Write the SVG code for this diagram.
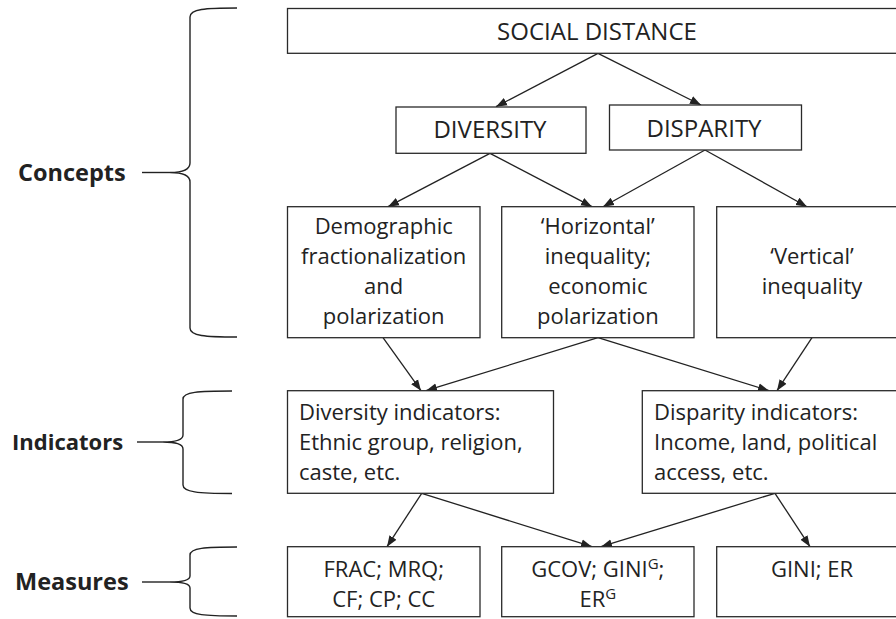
<svg xmlns="http://www.w3.org/2000/svg" width="896" height="619" viewBox="0 0 896 619">
<style>
.box{fill:#fff;stroke:#2a2a2a;stroke-width:1.3}
.t{font-family:"Open Sans","Noto Sans",sans-serif;font-size:22px;fill:#222;text-anchor:middle}
.h{font-size:24px}
.l{text-anchor:start}
.lab{font-family:"Open Sans","Noto Sans",sans-serif;font-size:23.5px;font-weight:bold;fill:#222}
.lab.s{font-size:22px}
.c{stroke:#222;stroke-width:1.3;fill:none}
.br{stroke:#222;stroke-width:1.4;fill:none}
</style>
<defs>
<marker id="ah" markerUnits="userSpaceOnUse" markerWidth="12" markerHeight="10" viewBox="0 0 12 10" refX="11" refY="5" orient="auto">
<path d="M0,0.8 L11,5 L0,9.2 Z" fill="#222"/>
</marker>
</defs>
<g id="brackets">
<path class="br" d="M237 8 C205 8 190 9 190 17 L190 163 C190 169 184 172.5 170 172.5 C184 172.5 190 176 190 182 L190 328 C190 336 205 337 237 337"/>
<path class="br" d="M142 172.5 L170 172.5"/>
<path class="br" d="M232 391 C198 391 183 392 183 399 L183 435 C183 440 177 442 163 442 C177 442 183 444 183 449 L183 485 C183 492 198 493.5 232 493.5"/>
<path class="br" d="M137 442 L163 442"/>
<path class="br" d="M237 547 C205 547 190 548 190 555 L190 576 C190 580 184 582 170 582 C184 582 190 584 190 588 L190 608 C190 615 205 616 237 616"/>
<path class="br" d="M142 582 L170 582"/>
</g>
<g id="label-concepts"><text class="lab" x="18" y="181">Concepts</text></g>
<g id="label-indicators"><text class="lab s" x="12" y="450">Indicators</text></g>
<g id="label-measures"><text class="lab" x="15" y="590">Measures</text></g>
<g id="connectors">
<line class="c" x1="598" y1="53.3" x2="496" y2="106.7" marker-end="url(#ah)"/>
<line class="c" x1="598" y1="53.3" x2="701" y2="105" marker-end="url(#ah)"/>
<line class="c" x1="490" y1="153.3" x2="388" y2="206.7" marker-end="url(#ah)"/>
<line class="c" x1="490" y1="153.3" x2="592" y2="206.7" marker-end="url(#ah)"/>
<line class="c" x1="705" y1="150" x2="603" y2="206.7" marker-end="url(#ah)"/>
<line class="c" x1="705" y1="150" x2="807" y2="206.7" marker-end="url(#ah)"/>
<line class="c" x1="383" y1="337.7" x2="421" y2="390.7" marker-end="url(#ah)"/>
<line class="c" x1="598" y1="337.7" x2="426" y2="390.7" marker-end="url(#ah)"/>
<line class="c" x1="598" y1="337.7" x2="769" y2="390.7" marker-end="url(#ah)"/>
<line class="c" x1="812" y1="337.7" x2="777" y2="390.7" marker-end="url(#ah)"/>
<line class="c" x1="421.7" y1="493.3" x2="387" y2="546.7" marker-end="url(#ah)"/>
<line class="c" x1="421.7" y1="493.3" x2="592" y2="546.7" marker-end="url(#ah)"/>
<line class="c" x1="775" y1="493.3" x2="601" y2="546.7" marker-end="url(#ah)"/>
<line class="c" x1="775" y1="493.3" x2="810" y2="546.7" marker-end="url(#ah)"/>
</g>
<g id="social-distance">
<rect class="box" x="287.5" y="8.5" width="622" height="44.8"/>
<text class="t h" x="597" y="40">SOCIAL DISTANCE</text>
</g>
<g id="diversity">
<rect class="box" x="396" y="107" width="190" height="46.3"/>
<text class="t h" x="490" y="138.3">DIVERSITY</text>
</g>
<g id="disparity">
<rect class="box" x="609.5" y="105" width="192" height="45"/>
<text class="t h" x="704" y="136.7">DISPARITY</text>
</g>
<g id="demographic">
<rect class="box" x="287.5" y="206.7" width="192.5" height="131"/>
<text class="t" x="383.7" y="234">Demographic</text>
<text class="t" x="383.7" y="264">fractionalization</text>
<text class="t" x="383.7" y="294">and</text>
<text class="t" x="383.7" y="324">polarization</text>
</g>
<g id="horizontal">
<rect class="box" x="501.7" y="206.7" width="192.3" height="131"/>
<text class="t" x="597.8" y="234">‘Horizontal’</text>
<text class="t" x="597.8" y="264">inequality;</text>
<text class="t" x="597.8" y="294">economic</text>
<text class="t" x="597.8" y="324">polarization</text>
</g>
<g id="vertical">
<rect class="box" x="716.7" y="206.7" width="192" height="131"/>
<text class="t" x="812" y="264">‘Vertical’</text>
<text class="t" x="812" y="294">inequality</text>
</g>
<g id="diversity-indicators">
<rect class="box" x="287.5" y="390.7" width="266" height="102.6"/>
<text class="t l" x="299" y="420">Diversity indicators:</text>
<text class="t l" x="299" y="450">Ethnic group, religion,</text>
<text class="t l" x="299" y="480">caste, etc.</text>
</g>
<g id="disparity-indicators">
<rect class="box" x="642.3" y="390.7" width="266" height="102.6"/>
<text class="t l" x="654" y="420">Disparity indicators:</text>
<text class="t l" x="654" y="450">Income, land, political</text>
<text class="t l" x="654" y="480">access, etc.</text>
</g>
<g id="frac">
<rect class="box" x="287.5" y="546.7" width="192.5" height="70"/>
<text class="t" x="383.7" y="577">FRAC; MRQ;</text>
<text class="t" x="383.7" y="607">CF; CP; CC</text>
</g>
<g id="gcov">
<rect class="box" x="501.7" y="546.7" width="192.3" height="70"/>
<text class="t" x="597.8" y="577">GCOV; GINI<tspan font-size="15" dy="-8">G</tspan><tspan dy="8">;</tspan></text>
<text class="t" x="597.8" y="607">ER<tspan font-size="15" dy="-8">G</tspan></text>
</g>
<g id="gini">
<rect class="box" x="716.7" y="546.7" width="192" height="70"/>
<text class="t" x="812" y="577">GINI; ER</text>
</g>
</svg>
